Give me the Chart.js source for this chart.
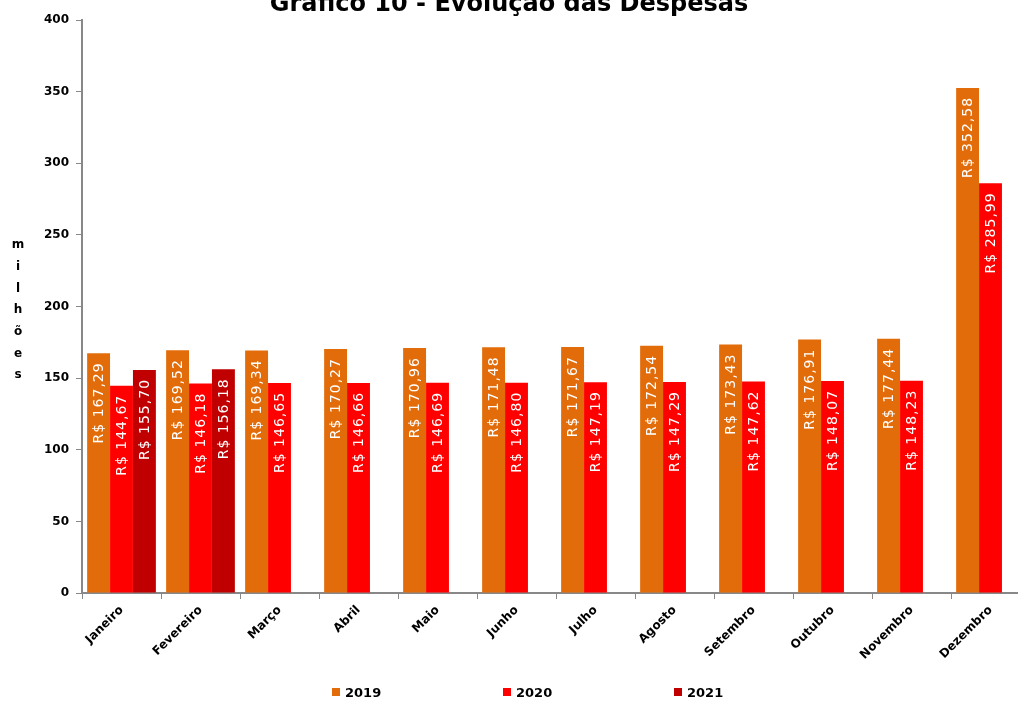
<!DOCTYPE html>
<html>
<head>
<meta charset="utf-8">
<script src="https://cdn.jsdelivr.net/npm/chart.js@4.4.0/dist/chart.umd.min.js"></script>
<style>
  html, body { margin: 0; padding: 0; background: #fff; overflow: hidden; }
  #wrap { width: 1030px; height: 702px; position: relative; }
</style>
</head>
<body>
<div id="wrap"><canvas id="grafico"></canvas></div>
<script>
var meses = ['Janeiro', 'Fevereiro', 'Março', 'Abril', 'Maio', 'Junho', 'Julho', 'Agosto', 'Setembro', 'Outubro', 'Novembro', 'Dezembro'];
var desp2019 = [167.29, 169.52, 169.34, 170.27, 170.96, 171.48, 171.67, 172.54, 173.43, 176.91, 177.44, 352.58];
var desp2020 = [144.67, 146.18, 146.65, 146.66, 146.69, 146.80, 147.19, 147.29, 147.62, 148.07, 148.23, 285.99];
var desp2021 = [155.70, 156.18, null, null, null, null, null, null, null, null, null, null];
var tituloGrafico = 'Gráfico 10 - Evolução das Despesas';
var tituloEixoY = 'milhões';

var fonte = '"DejaVu Sans", Verdana, sans-serif';

// valores dentro das barras, na vertical
var rotulosPlugin = {
    id: 'rotulos',
    afterDatasetsDraw: function (chart) {
        var ctx = chart.ctx;
        ctx.save();
        ctx.fillStyle = '#ffffff';
        ctx.font = '14px ' + fonte;
        ctx.letterSpacing = '1px';
        ctx.textAlign = 'right';
        ctx.textBaseline = 'middle';
        chart.data.datasets.forEach(function (ds, i) {
            var meta = chart.getDatasetMeta(i);
            meta.data.forEach(function (bar, j) {
                var v = ds.data[j];
                if (v === null || v === undefined) return;
                var txt = 'R$ ' + v.toFixed(2).replace('.', ',');
                ctx.save();
                ctx.translate(bar.x + 1, bar.y + 9);
                ctx.rotate(-Math.PI / 2);
                ctx.fillText(txt, 0, 0);
                ctx.restore();
            });
        });
        ctx.restore();
    }
};

// titulo, eixo y (letras empilhadas) e legenda
var extrasPlugin = {
    id: 'extras',
    afterDraw: function (chart) {
        var ctx = chart.ctx;
        ctx.save();
        ctx.fillStyle = '#000';
        ctx.font = 'bold 24px ' + fonte;
        ctx.textAlign = 'center';
        ctx.textBaseline = 'middle';
        ctx.fillText(tituloGrafico, 509, 5);

        ctx.font = 'bold 12px ' + fonte;
        var letras = tituloEixoY.split('');
        letras.forEach(function (l, k) {
            ctx.fillText(l, 18, 245 + k * 21.7);
        });

        ctx.textAlign = 'left';
        ctx.font = 'bold 13px ' + fonte;
        chart.data.datasets.forEach(function (ds, i) {
            var x = 332 + i * 171;
            ctx.fillStyle = ds.backgroundColor;
            ctx.fillRect(x, 688, 8, 8);
            ctx.fillStyle = '#000';
            ctx.fillText(ds.label, x + 13, 694);
        });
        ctx.restore();
    }
};

var config = {
    type: 'bar',
    data: {
        labels: meses,
        datasets: [{
            label: '2019',
            backgroundColor: '#E36C0A',
            data: desp2019
        }, {
            label: '2020',
            backgroundColor: '#FF0000',
            data: desp2020
        }, {
            label: '2021',
            backgroundColor: '#C00000',
            data: desp2021
        }]
    },
    options: {
        responsive: true,
        maintainAspectRatio: false,
        animation: false,
        datasets: {
            bar: { barPercentage: 1, categoryPercentage: 0.87 }
        },
        layout: { padding: { top: 20, right: 0, bottom: 22, left: 0 } },
        plugins: {
            legend: { display: false },
            title: { display: false },
            tooltip: { enabled: false }
        },
        scales: {
            x: {
                grid: { display: true, drawOnChartArea: false, drawTicks: true, tickLength: 6, color: '#888', offset: true },
                border: { color: '#888', width: 2 },
                ticks: {
                    color: '#000',
                    font: { family: fonte, size: 12, weight: 'bold' },
                    minRotation: 45,
                    maxRotation: 45,
                    padding: 4
                },
                afterFit: function (scale) { scale.height = 87; }
            },
            y: {
                min: 0,
                max: 400,
                grid: { display: true, drawOnChartArea: false, drawTicks: true, tickLength: 6, color: '#888' },
                border: { color: '#888', width: 2 },
                ticks: {
                    stepSize: 50,
                    color: '#000',
                    font: { family: fonte, size: 12, weight: 'bold' },
                    padding: 7
                },
                afterFit: function (scale) { scale.width = 82; }
            }
        }
    },
    plugins: [rotulosPlugin, extrasPlugin]
};

var ctx = document.getElementById('grafico').getContext('2d');
var chart = new Chart(ctx, config);
</script>
</body>
</html>
